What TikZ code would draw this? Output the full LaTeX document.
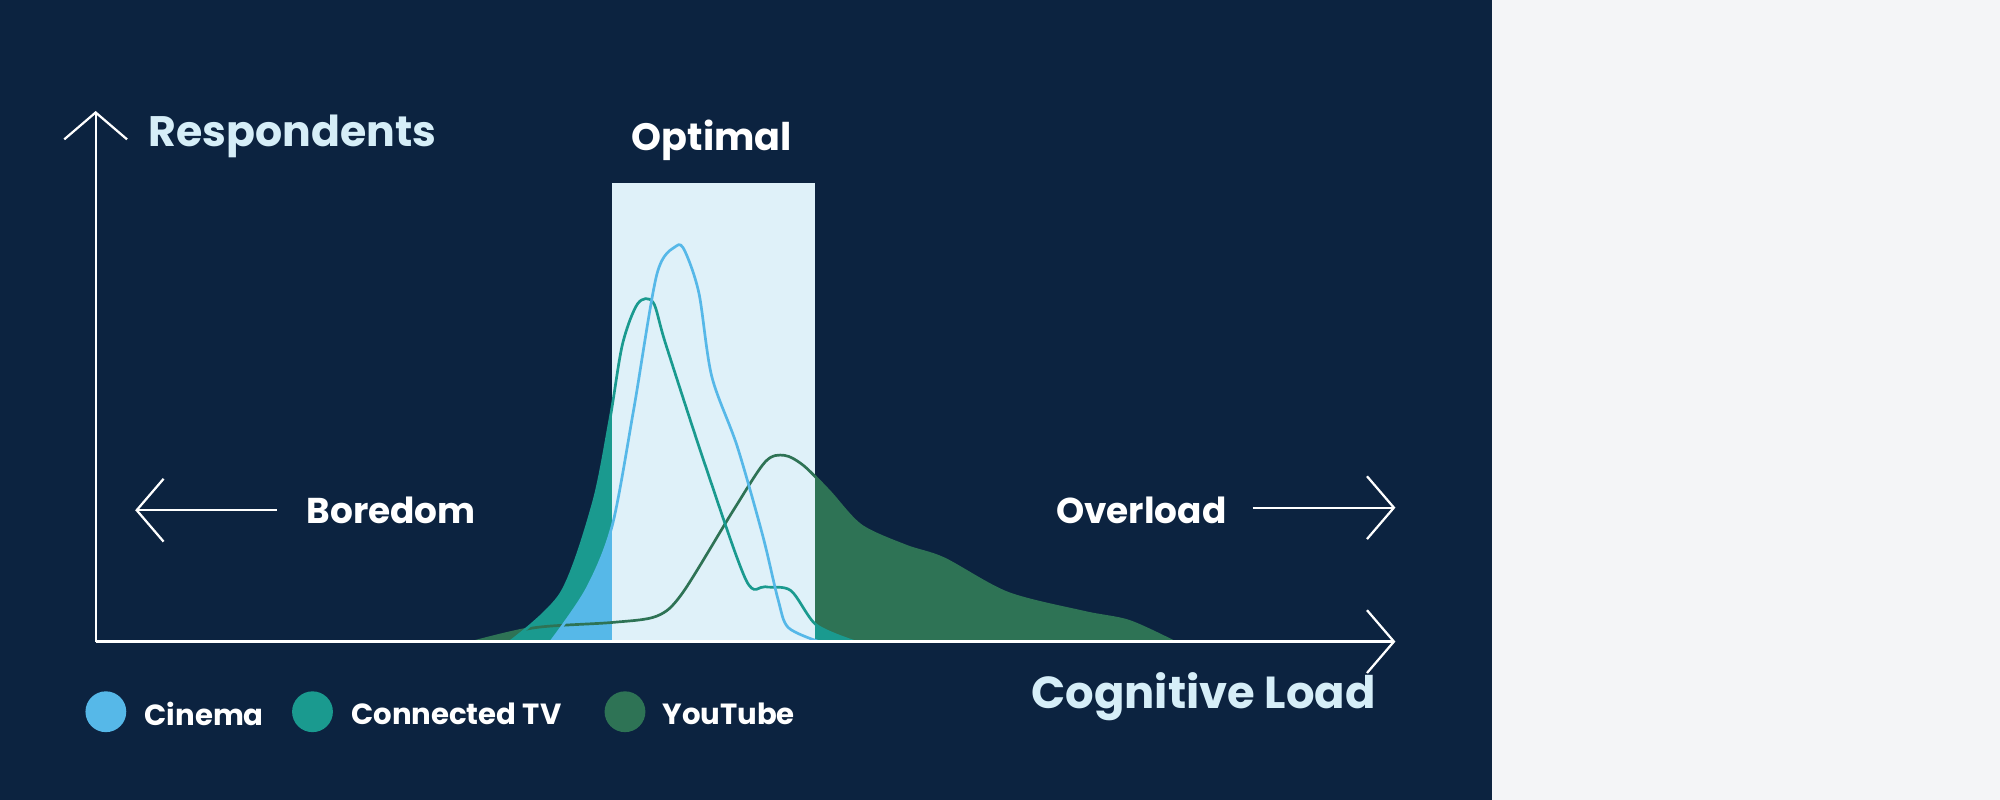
\documentclass[tikz,border=0pt]{standalone}
\usepackage{fontspec}
\setmainfont{Poppins}
\usetikzlibrary{arrows.meta}
\definecolor{navy}{HTML}{0C2340}
\definecolor{pale}{HTML}{F4F5F7}
\definecolor{opt}{HTML}{DFF1F9}
\definecolor{ytg}{HTML}{2E7355}
\definecolor{ctv}{HTML}{1A9A8F}
\definecolor{cin}{HTML}{56B8E8}
\definecolor{lbl}{HTML}{D6EEF8}
\begin{document}
\begin{tikzpicture}[x=0.01cm,y=-0.01cm,
  axis/.style={white,line width=0.5pt,-{Straight Barb[length=6pt,width=14pt,line width=0.5pt]}},
  lab/.style={font=\bfseries\fontsize{8}{9}\selectfont,white},
  leg/.style={font=\bfseries\fontsize{6.5}{8}\selectfont,white,anchor=west}]
\useasboundingbox (0,0) rectangle (1568,627);
\fill[pale] (0,0) rectangle (1568,627);
\fill[navy] (0,0) rectangle (1170,627);
% fills
\def\yt{(372,503) (420,492) (480,488) (515,483) (535,465) (575,400) (600,362) (615,357) (630,365) (650,385) (675,412) (710,428) (740,438) (790,465) (850,480) (885,487) (920,503)}
\def\ct{(400,503) (440,465) (465,395) (478,330) (488,270) (500,238) (512,237) (522,270) (553,365) (585,455) (600,460) (620,463) (640,490) (670,503)}
\def\ci{(432,503) (460,462) (480,412) (497,320) (515,215) (530,193) (537,197) (548,230) (558,295) (578,350) (598,420) (610,470) (618,492) (642,503)}
\fill[ytg] plot[smooth,tension=0.5] coordinates {\yt} -- cycle;
\fill[ctv] plot[smooth,tension=0.5] coordinates {\ct} -- cycle;
\fill[cin] plot[smooth,tension=0.5] coordinates {\ci} -- cycle;
\node[fill=opt,minimum width=159\pgflinewidth,inner sep=0,anchor=north west,minimum width=1.59cm,minimum height=3.6cm] (optbox) at (479,143) {};
\draw[ytg,line width=0.6pt] plot[smooth,tension=0.5] coordinates {\yt};
\draw[ctv,line width=0.6pt] plot[smooth,tension=0.5] coordinates {\ct};
\draw[cin,line width=0.6pt] plot[smooth,tension=0.5] coordinates {\ci};
% axes
\coordinate (o) at (75,503);
\coordinate (ytop) at (75,87);
\coordinate (xend) at (1094,503);
\draw[axis] (o) -- (ytop);
\draw[axis] (o) -- (xend);
\coordinate (bl1) at (217,400); \coordinate (bl2) at (106,400);
\coordinate (ol1) at (982,398); \coordinate (ol2) at (1094,398);
\draw[axis] (bl1) -- (bl2);
\draw[axis] (ol1) -- (ol2);
\node[lab,text=lbl,font=\bfseries\fontsize{9.5}{11}\selectfont,anchor=west] (resp) at (104,107) {Respondents};
\node[lab,font=\bfseries\fontsize{8.5}{10}\selectfont] (optl) at (558,110) {Optimal};
\node[lab,anchor=west] (bore) at (228,400) {Boredom};
\node[lab,anchor=east] (over) at (974,400) {Overload};
\node[lab,text=lbl,font=\bfseries\fontsize{10}{12}\selectfont,anchor=east] (cog) at (1091,546) {Cognitive Load};
\fill[cin] (83,558) circle (16);
\fill[ctv] (245,558) circle (16);
\fill[ytg] (490,558) circle (16);
\node[leg] (l1) at (101,560) {Cinema};
\node[leg] (l2) at (263,560) {Connected TV};
\node[leg] (l3) at (507,560) {YouTube};
\end{tikzpicture}
\end{document}
